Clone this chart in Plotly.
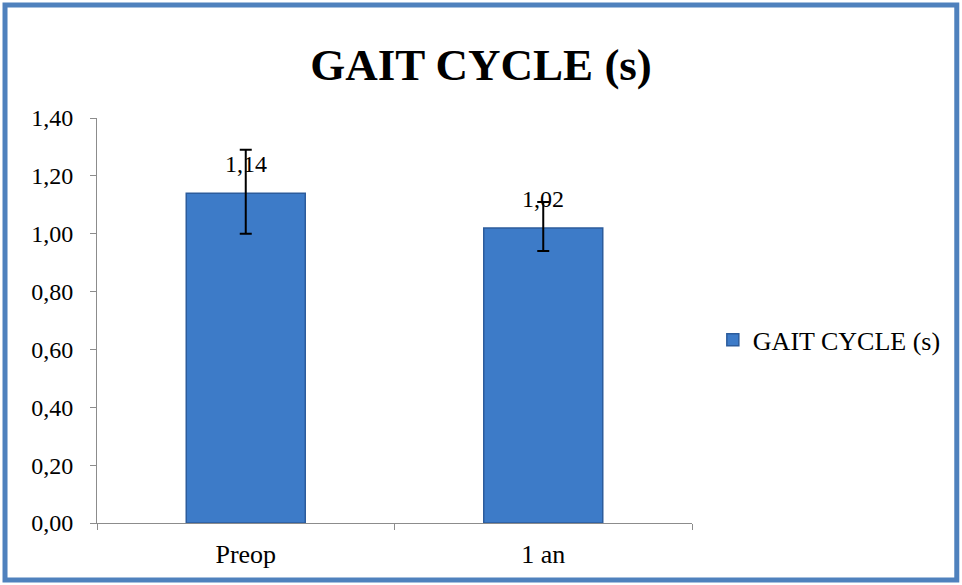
import plotly.graph_objects as go

# chart data
categories = ["Preop", "1 an"]
values = [1.14, 1.02]
err_plus = [0.15, 0.09]
err_minus = [0.14, 0.08]
labels = ["1,14", "1,02"]
series_name = "GAIT CYCLE (s)"

font_family = "Liberation Serif, Times New Roman, serif"

fig = go.Figure()

fig.add_trace(go.Bar(
    x=categories,
    y=values,
    name=series_name,
    width=0.4,
    marker=dict(color="#3D7BC8", line=dict(color="#2C5C9C", width=1.5)),
    error_y=dict(type="data", array=err_plus, arrayminus=err_minus,
                 color="black", thickness=2, width=6),
    showlegend=True,
))

# value labels above the bars
for cat, v, lab in zip(categories, values, labels):
    fig.add_annotation(x=cat, y=v, text=lab, showarrow=False,
                       yanchor="bottom", yshift=14,
                       font=dict(family=font_family, size=24, color="black"))

# blue frame around the whole chart
fig.add_shape(type="rect", xref="paper", yref="paper",
              x0=-0.1546, x1=1.445, y0=-0.1407, y1=1.279,
              line=dict(color="#4F81BD", width=5), layer="above")

fig.update_layout(
    width=962, height=585,
    margin=dict(l=97, r=270, t=118, b=62),
    paper_bgcolor="white", plot_bgcolor="white",
    separators=", ",
    font=dict(family=font_family, size=24, color="black"),
    title=dict(text="<b>GAIT CYCLE (s)</b>", x=0.5, xanchor="center",
               y=0.89, yanchor="middle",
               font=dict(family=font_family, size=45, color="black")),
    legend=dict(x=1.035, y=0.452, xanchor="left", yanchor="middle",
                font=dict(family=font_family, size=26),
                itemwidth=30),
    bargap=0.6,
)

fig.update_xaxes(showline=True, linecolor="#8C8C8C", linewidth=1,
                 ticks="outside", tickson="boundaries", ticklen=6,
                 tickcolor="#8C8C8C", showgrid=False,
                 ticklabelstandoff=8,
                 tickfont=dict(size=26))
fig.update_yaxes(range=[0, 1.4], dtick=0.2, tickformat=".2f",
                 showline=True, linecolor="#8C8C8C", linewidth=1,
                 ticks="outside", ticklen=6, tickcolor="#8C8C8C",
                 showgrid=False, zeroline=False,
                 ticklabelstandoff=12,
                 tickfont=dict(size=24))

# remove the default page margin so the figure sits at the window origin
fig.write_html("out.html", config={"displayModeBar": False},
               post_script="document.body.style.margin='0';")
